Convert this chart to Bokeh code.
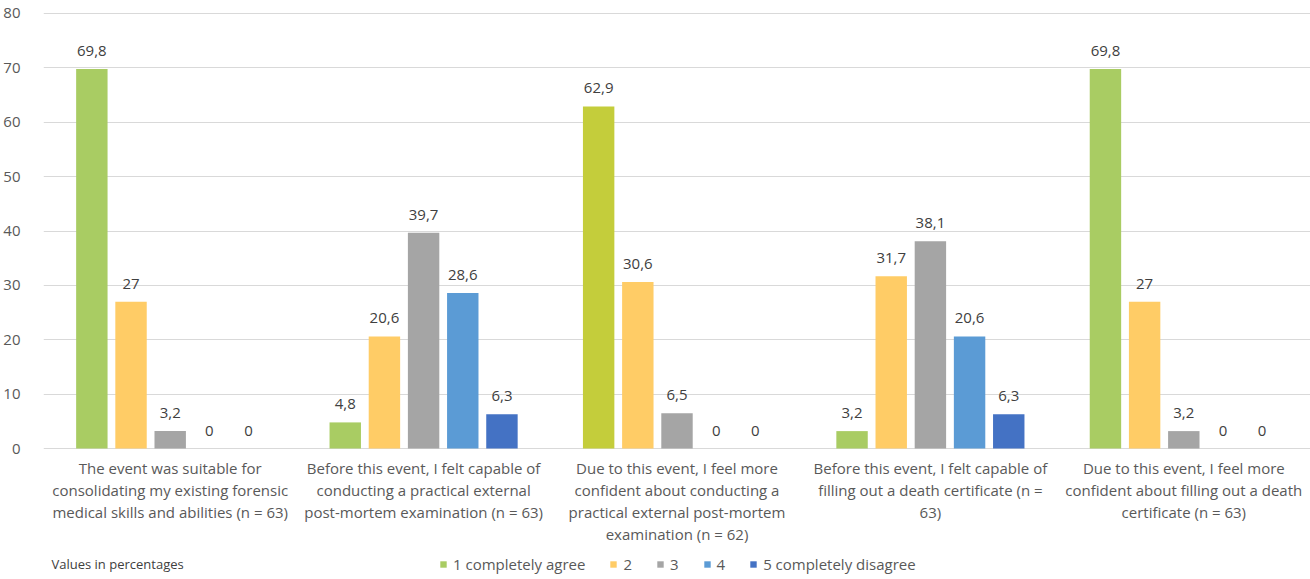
from bokeh.plotting import figure
from bokeh.models import ColumnDataSource, FixedTicker, Legend, LegendItem, Range1d
from bokeh.core.properties import value
from bokeh.embed import file_html
from bokeh.resources import INLINE

# ---------------- data ----------------
categories = [
    "The event was suitable for\nconsolidating my existing forensic\nmedical skills and abilities (n = 63)",
    "Before this event, I felt capable of\nconducting a practical external\npost-mortem examination (n = 63)",
    "Due to this event, I feel more\nconfident about conducting a\npractical external post-mortem\nexamination (n = 62)",
    "Before this event, I felt capable of\nfilling out a death certificate (n =\n63)",
    "Due to this event, I feel more\nconfident about filling out a death\ncertificate (n = 63)",
]
series_names = ["1 completely agree", "2", "3", "4", "5 completely disagree"]
s1 = [69.8, 4.8, 62.9, 3.2, 69.8]
s2 = [27, 20.6, 30.6, 31.7, 27]
s3 = [3.2, 39.7, 6.5, 38.1, 3.2]
s4 = [0, 28.6, 0, 20.6, 0]
s5 = [0, 6.3, 0, 6.3, 0]
series_values = [s1, s2, s3, s4, s5]
y_ticks = [0, 10, 20, 30, 40, 50, 60, 70, 80]
note = "Values in percentages"

# ---------------- style ----------------
series_colors = ["#A9CC63", "#FFCC66", "#A5A5A5", "#5B9BD5", "#4472C4"]
color_overrides = {(0, 2): "#C4CD3B"}  # (series, category) -> colour
FONT = "Open Sans"
FS = "15px"
pitch = 0.1546
bar_w = 0.124

p = figure(width=1310, height=579, output_backend="svg", toolbar_location=None,
           x_range=Range1d(0, len(categories)), y_range=Range1d(-24.09, 82.39),
           x_axis_location=None, min_border_left=42, min_border_right=0,
           min_border_top=0, min_border_bottom=0)
p.outline_line_color = None
p.background_fill_color = "white"
p.border_fill_color = "white"
p.xgrid.grid_line_color = None
p.ygrid.grid_line_color = "#D9D9D9"
p.ygrid.ticker = FixedTicker(ticks=y_ticks)
p.yaxis.ticker = FixedTicker(ticks=y_ticks)
p.yaxis.axis_line_color = None
p.yaxis.major_tick_line_color = None
p.yaxis.minor_tick_line_color = None
p.yaxis.major_label_standoff = 17
p.yaxis.major_label_text_font = FONT
p.yaxis.major_label_text_font_size = FS
p.yaxis.major_label_text_color = "#595959"

legend_items = []
n = len(categories)
for j, (name, vals) in enumerate(zip(series_names, series_values)):
    xs = [i + 0.5 + (j - 2) * pitch for i in range(n)]
    cols = [color_overrides.get((j, i), series_colors[j]) for i in range(n)]
    labels = [("%g" % v).replace(".", ",") for v in vals]
    src = ColumnDataSource(dict(x=xs, top=vals, color=cols, label=labels))
    r = p.vbar(x="x", top="top", width=bar_w, bottom=0, fill_color="color",
               line_color=None, source=src)
    p.text(x="x", y="top", text="label", source=src, text_align="center",
           text_baseline="bottom", y_offset=-13, text_font=value(FONT),
           text_font_size=FS, text_color="#404040")
    legend_items.append(LegendItem(label=name, renderers=[r]))

cat_src = ColumnDataSource(dict(x=[i + 0.5 for i in range(n)], y=[0] * n, text=categories))
p.text(x="x", y="y", text="text", source=cat_src, text_align="center",
       text_baseline="top", y_offset=9, text_font=value(FONT),
       text_font_size=FS, text_color="#595959", text_line_height=1.1)

note_src = ColumnDataSource(dict(x=[0.0315], y=[-21.2], text=[note]))
p.text(x="x", y="y", text="text", source=note_src, text_align="left",
       text_baseline="middle", text_font=value(FONT), text_font_size="13px",
       text_color="#404040")

legend = Legend(items=legend_items, orientation="horizontal", location=(396, 5),
                glyph_width=8, glyph_height=8, label_standoff=6, spacing=24,
                padding=0, margin=0, border_line_color=None,
                background_fill_alpha=0, label_text_font=FONT,
                label_text_font_size=FS, label_text_color="#595959",
                label_height=18, label_width=0)
p.add_layout(legend, "center")

open("out.html", "w").write(file_html(p, INLINE))
